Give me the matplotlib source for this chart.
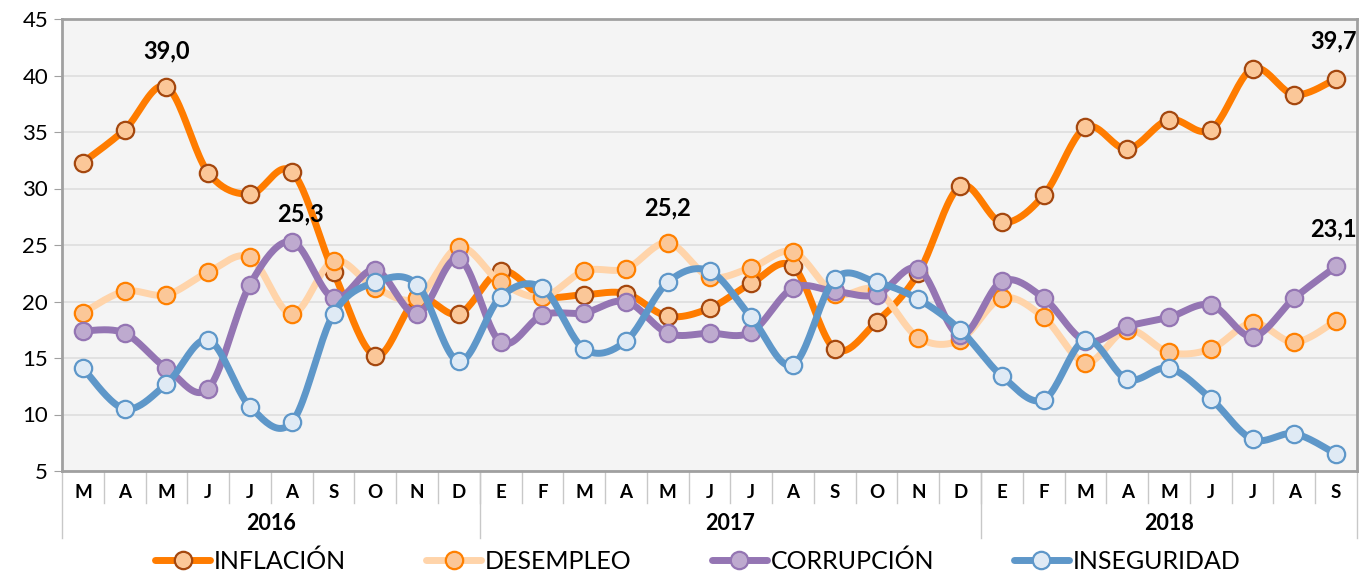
import numpy as np
import matplotlib
matplotlib.use('Agg')
import matplotlib.pyplot as plt
from matplotlib.lines import Line2D

plt.rcParams['font.family'] = ['Lato', 'DejaVu Sans']

# Meses (mar 2016 - sep 2018)
meses = ['M', 'A', 'M', 'J', 'J', 'A', 'S', 'O', 'N', 'D',
         'E', 'F', 'M', 'A', 'M', 'J', 'J', 'A', 'S', 'O', 'N', 'D',
         'E', 'F', 'M', 'A', 'M', 'J', 'J', 'A', 'S']
anios = ['2016', '2017', '2018']
meses_por_anio = [10, 12, 9]

inflacion = [32.3, 35.2, 39.0, 31.4, 29.5, 31.5, 22.6, 15.2, 20.2, 18.9,
             22.7, 20.5, 20.6, 20.7, 18.7, 19.4, 21.6, 23.1, 15.8, 18.2, 22.5, 30.2,
             27.0, 29.4, 35.4, 33.5, 36.1, 35.2, 40.6, 38.3, 39.7]
desempleo = [19.0, 20.9, 20.6, 22.6, 23.9, 18.9, 23.6, 21.2, 20.3, 24.8,
             21.7, 20.4, 22.7, 22.9, 25.2, 22.2, 23.0, 24.4, 20.7, 21.0, 16.8, 16.6,
             20.3, 18.6, 14.6, 17.5, 15.5, 15.8, 18.1, 16.4, 18.3]
corrupcion = [17.4, 17.2, 14.1, 12.3, 21.5, 25.3, 20.3, 22.8, 18.9, 23.8,
              16.4, 18.8, 19.0, 20.0, 17.2, 17.2, 17.3, 21.2, 20.9, 20.6, 22.9, 17.0,
              21.8, 20.3, 16.5, 17.8, 18.6, 19.7, 16.9, 20.3, 23.1]
inseguridad = [14.1, 10.5, 12.7, 16.6, 10.7, 9.3, 18.9, 21.7, 21.5, 14.7,
               20.4, 21.2, 15.8, 16.5, 21.7, 22.7, 18.6, 14.4, 22.0, 21.7, 20.2, 17.5,
               13.4, 11.3, 16.6, 13.1, 14.1, 11.4, 7.8, 8.3, 6.5]

series = [
    # nombre, valores, color linea, relleno marcador, borde marcador
    ('INFLACIÓN', inflacion, '#FF7C00', '#FBC798', '#A4470E'),
    ('DESEMPLEO', desempleo, '#FFD4AA', '#FBC798', '#FF8000'),
    ('CORRUPCIÓN', corrupcion, '#9475B3', '#BEAACF', '#9475B3'),
    ('INSEGURIDAD', inseguridad, '#5E97C9', '#DFEAF5', '#5E97C9'),
]

# (serie, indice) de las etiquetas de datos
etiquetas = [(0, 2), (2, 5), (1, 14), (0, 30), (2, 30)]
desplaz = [(0, 26), (6, 20), (0, 25), (-2, 27), (-2, 27)]


def suavizar(y, n=24):
    # curva tipo "linea suavizada" de Excel (Catmull-Rom en Bezier)
    x = np.arange(len(y), dtype=float)
    y = np.asarray(y, dtype=float)
    px = np.concatenate([[x[0]], x, [x[-1]]])
    py = np.concatenate([[y[0]], y, [y[-1]]])
    t = np.linspace(0, 1, n)[:, None]
    xs, ys = [], []
    for i in range(len(y) - 1):
        p0 = np.array([px[i + 1], py[i + 1]])
        p3 = np.array([px[i + 2], py[i + 2]])
        c1 = p0 + (p3 - np.array([px[i], py[i]])) / 6.0
        c2 = p3 - (np.array([px[i + 3], py[i + 3]]) - p0) / 6.0
        b = ((1 - t) ** 3) * p0 + 3 * ((1 - t) ** 2) * t * c1 \
            + 3 * (1 - t) * t ** 2 * c2 + t ** 3 * p3
        xs.append(b[:, 0])
        ys.append(b[:, 1])
    return np.concatenate(xs), np.concatenate(ys)


fig = plt.figure(figsize=(13.59, 5.74), dpi=100)
ax = fig.add_axes([62 / 1359, 1 - 471 / 574, 1295 / 1359, 452 / 574])
ax.set_facecolor('#F4F4F4')

x = np.arange(len(meses))
handles = []
for k, (nombre, vals, lc, mf, me) in enumerate(series):
    sx, sy = suavizar(vals)
    ax.plot(sx, sy, color=lc, lw=5, solid_capstyle='round', zorder=3 + 2 * k)
    ax.plot(x, vals, ls='none', marker='o', ms=12.5, mfc=mf, mec=me, mew=1.6,
            zorder=4 + 2 * k)
    handles.append(Line2D([0], [0], color=lc, lw=5, marker='o', ms=12.5,
                          mfc=mf, mec=me, mew=1.6, solid_capstyle='round'))

for (s, i), off in zip(etiquetas, desplaz):
    v = series[s][1][i]
    ax.annotate(('%.1f' % v).replace('.', ','), (i, v), xytext=off,
                textcoords='offset points', ha='center', va='center',
                fontsize=17, fontweight='bold', zorder=20)

ax.set_xlim(-0.5, len(meses) - 0.5)
ax.set_ylim(5, 45)
ax.set_yticks(np.arange(5, 46, 5))
ax.tick_params(axis='y', labelsize=16, length=6, color='#A0A0A0', pad=4)
ax.set_xticks([])
ax.yaxis.grid(True, color='#DCDCDC', lw=1.1)
ax.set_axisbelow(True)
for sp in ax.spines.values():
    sp.set_color('#A0A0A0')
    sp.set_linewidth(2)

# tabla de categorias bajo el eje
ax_h = 452.0
trans = ax.get_xaxis_transform()
for i in range(1, len(meses)):
    ax.plot([i - 0.5, i - 0.5], [0, -32 / ax_h], transform=trans,
            color='#C8C8C8', lw=1, clip_on=False)
for i, m in enumerate(meses):
    ax.text(i, -21 / ax_h, m, transform=trans, ha='center', va='center',
            fontsize=13.5, fontweight='bold')
inicio = -0.5
ax.plot([inicio, inicio], [0, -67 / ax_h], transform=trans,
        color='#C8C8C8', lw=1, clip_on=False)
for a, n in zip(anios, meses_por_anio):
    fin = inicio + n
    ax.plot([fin, fin], [0, -67 / ax_h], transform=trans,
            color='#C8C8C8', lw=1, clip_on=False)
    ax.text((inicio + fin) / 2, -52 / ax_h, a, transform=trans, ha='center',
            va='center', fontsize=15.5, fontweight='bold')
    inicio = fin

fig.legend(handles, [s[0] for s in series], loc='center',
           bbox_to_anchor=(698 / 1359, 1 - 561 / 574), ncol=4, frameon=False,
           fontsize=18, handlelength=2.2, handletextpad=0.15,
           columnspacing=3.2, numpoints=1, borderpad=0)

fig.savefig('out.png', dpi=100, facecolor='white')
